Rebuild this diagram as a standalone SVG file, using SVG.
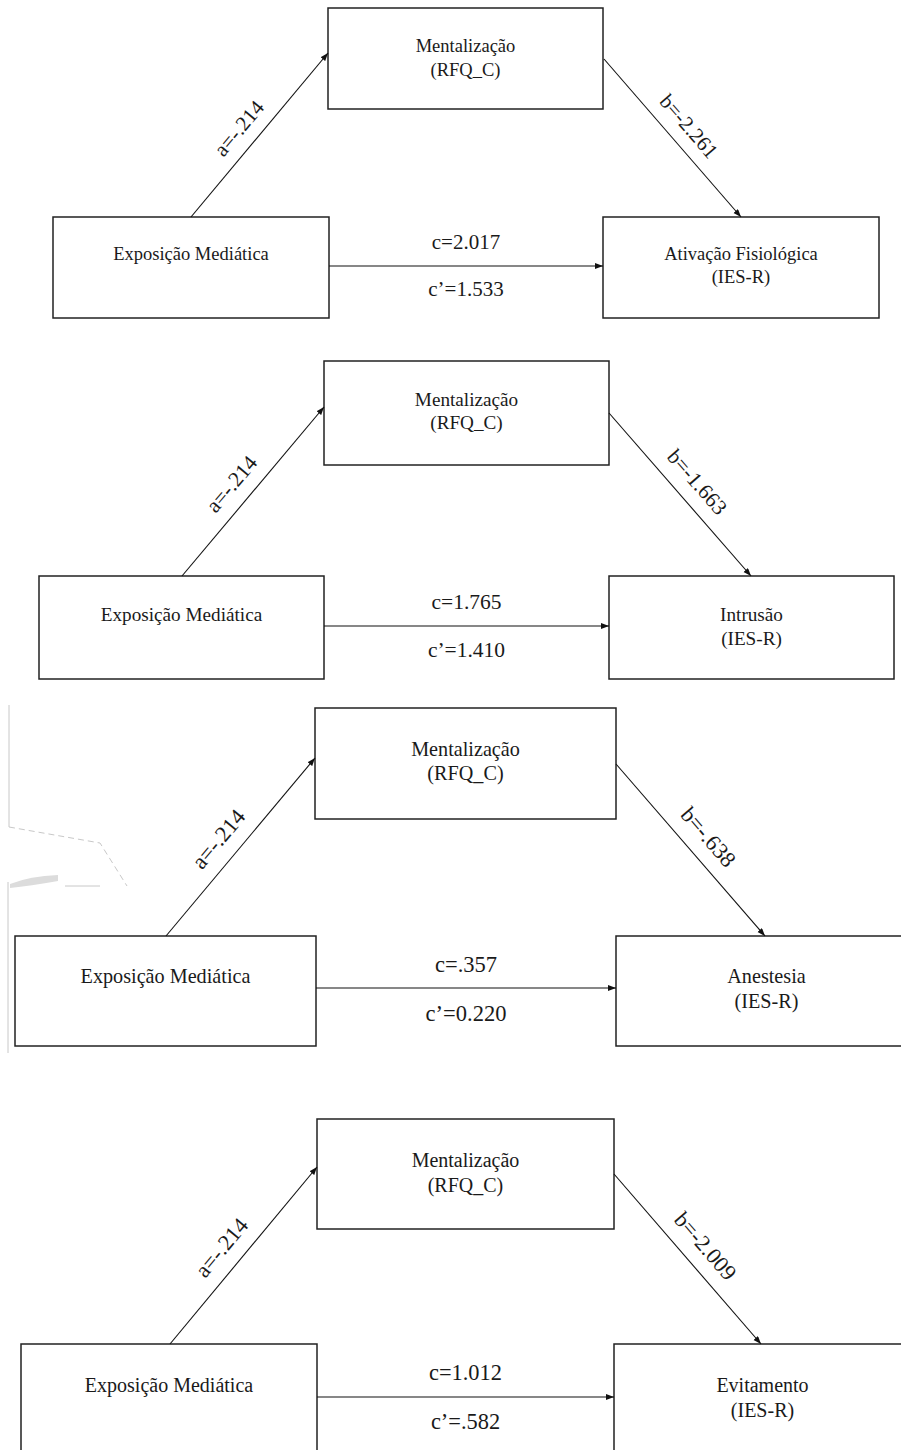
<svg xmlns="http://www.w3.org/2000/svg" width="901" height="1450" viewBox="0 0 901 1450">
<style>
.box{fill:#fff;stroke:#222;stroke-width:1.5}
.ln{stroke:#111;stroke-width:1.1;fill:none}
text{font-family:"Liberation Serif","Times New Roman",serif;fill:#1a1a1a;text-anchor:middle}
.n1{font-size:18.5px}.l1{font-size:21px}
.n2{font-size:19.2px}.l2{font-size:21.5px}
.n3{font-size:20.2px}.l3{font-size:22.5px}
.n4{font-size:20px}.l4{font-size:22.4px}
.art{stroke:#c8c8c8;stroke-width:1;fill:none}
</style>
<defs>
<marker id="ah" markerUnits="userSpaceOnUse" markerWidth="9" markerHeight="7" refX="8" refY="3" orient="auto">
<path d="M0,0 L8,3 L0,6 z" fill="#111"/>
</marker>
</defs>
<rect width="901" height="1450" fill="#fff"/>

<!-- Panel 1 -->
<g id="p1-med"><rect class="box" x="328" y="8" width="275" height="101"/><text class="n1" x="465.5" y="52">Mentalização</text><text class="n1" x="465.5" y="76">(RFQ_C)</text></g>
<g id="p1-x"><rect class="box" x="53" y="217" width="276" height="101"/><text class="n1" x="191" y="260">Exposição Mediática</text></g>
<g id="p1-y"><rect class="box" x="603" y="217" width="276" height="101"/><text class="n1" x="741" y="260">Ativação Fisiológica</text><text class="n1" x="741" y="283">(IES-R)</text></g>
<g id="p1-conn">
<line class="ln" x1="191" y1="217" x2="328" y2="53" marker-end="url(#ah)"/>
<line class="ln" x1="604" y1="59" x2="741" y2="217" marker-end="url(#ah)"/>
<line class="ln" x1="329" y1="266" x2="603" y2="266" marker-end="url(#ah)"/>
<text class="l1" transform="translate(259.5,135) rotate(-50.13)" x="-8" y="-13">a=-.214</text>
<text class="l1" transform="translate(672.5,138) rotate(49.07)" x="2" y="-13">b=-2.261</text>
<text class="l1" x="466" y="249">c=2.017</text>
<text class="l1" x="466" y="296">c’=1.533</text>
</g>

<!-- Panel 2 -->
<g id="p2-med"><rect class="box" x="324" y="361" width="285" height="104"/><text class="n2" x="466.5" y="406">Mentalização</text><text class="n2" x="466.5" y="429">(RFQ_C)</text></g>
<g id="p2-x"><rect class="box" x="39" y="576" width="285" height="103"/><text class="n2" x="181.5" y="621">Exposição Mediática</text></g>
<g id="p2-y"><rect class="box" x="609" y="576" width="285" height="103"/><text class="n2" x="751.5" y="621">Intrusão</text><text class="n2" x="751.5" y="645">(IES-R)</text></g>
<g id="p2-conn">
<line class="ln" x1="182" y1="576" x2="324" y2="407" marker-end="url(#ah)"/>
<line class="ln" x1="609" y1="413" x2="751" y2="576" marker-end="url(#ah)"/>
<line class="ln" x1="324" y1="626" x2="609" y2="626" marker-end="url(#ah)"/>
<text class="l2" transform="translate(253,491.5) rotate(-49.96)" x="-8" y="-14">a=-.214</text>
<text class="l2" transform="translate(680,494.5) rotate(48.94)" x="2" y="-14">b=-1.663</text>
<text class="l2" x="466.5" y="609">c=1.765</text>
<text class="l2" x="466.5" y="657">c’=1.410</text>
</g>

<!-- scan artifact -->
<g id="artifact">
<line class="art" x1="9" y1="705" x2="9" y2="827"/>
<line class="art" x1="8" y1="882" x2="8" y2="1053"/>
<path class="art" stroke-dasharray="6,4" d="M9,827 L100,843 L127,886"/>
<path d="M10,884 Q30,876 58,875 L58,881 Q30,886 10,888 z" fill="#dcdcdc"/>
<line class="art" x1="65" y1="886" x2="100" y2="886" stroke="#bbb"/>
</g>

<!-- Panel 3 -->
<g id="p3-med"><rect class="box" x="315" y="708" width="301" height="111"/><text class="n3" x="465.5" y="756">Mentalização</text><text class="n3" x="465.5" y="780">(RFQ_C)</text></g>
<g id="p3-x"><rect class="box" x="15" y="936" width="301" height="110"/><text class="n3" x="165.5" y="983">Exposição Mediática</text></g>
<g id="p3-y"><rect class="box" x="616" y="936" width="301" height="110"/><text class="n3" x="766.5" y="983">Anestesia</text><text class="n3" x="766.5" y="1008">(IES-R)</text></g>
<g id="p3-conn">
<line class="ln" x1="166" y1="936" x2="315" y2="758" marker-end="url(#ah)"/>
<line class="ln" x1="616" y1="764" x2="765" y2="936" marker-end="url(#ah)"/>
<line class="ln" x1="316" y1="988" x2="616" y2="988" marker-end="url(#ah)"/>
<text class="l3" transform="translate(240.5,847) rotate(-50.07)" x="-8" y="-14.5">a=-.214</text>
<text class="l3" transform="translate(690.5,850) rotate(49.1)" x="2" y="-14.5">b=-.638</text>
<text class="l3" x="466" y="972">c=.357</text>
<text class="l3" x="466" y="1021">c’=0.220</text>
</g>

<!-- Panel 4 -->
<g id="p4-med"><rect class="box" x="317" y="1119" width="297" height="110"/><text class="n4" x="465.5" y="1167">Mentalização</text><text class="n4" x="465.5" y="1192">(RFQ_C)</text></g>
<g id="p4-x"><rect class="box" x="21" y="1344" width="296" height="120"/><text class="n4" x="169" y="1392">Exposição Mediática</text></g>
<g id="p4-y"><rect class="box" x="614" y="1344" width="297" height="120"/><text class="n4" x="762.5" y="1392">Evitamento</text><text class="n4" x="762.5" y="1417">(IES-R)</text></g>
<g id="p4-conn">
<line class="ln" x1="170" y1="1344" x2="317" y2="1167" marker-end="url(#ah)"/>
<line class="ln" x1="614" y1="1174" x2="761" y2="1344" marker-end="url(#ah)"/>
<line class="ln" x1="317" y1="1397" x2="614" y2="1397" marker-end="url(#ah)"/>
<text class="l4" transform="translate(243.5,1255.5) rotate(-50.3)" x="-8" y="-14.5">a=-.214</text>
<text class="l4" transform="translate(687.5,1259) rotate(49.15)" x="2" y="-14.5">b=-2.009</text>
<text class="l4" x="465.5" y="1380">c=1.012</text>
<text class="l4" x="465.5" y="1429">c’=.582</text>
</g>
</svg>
